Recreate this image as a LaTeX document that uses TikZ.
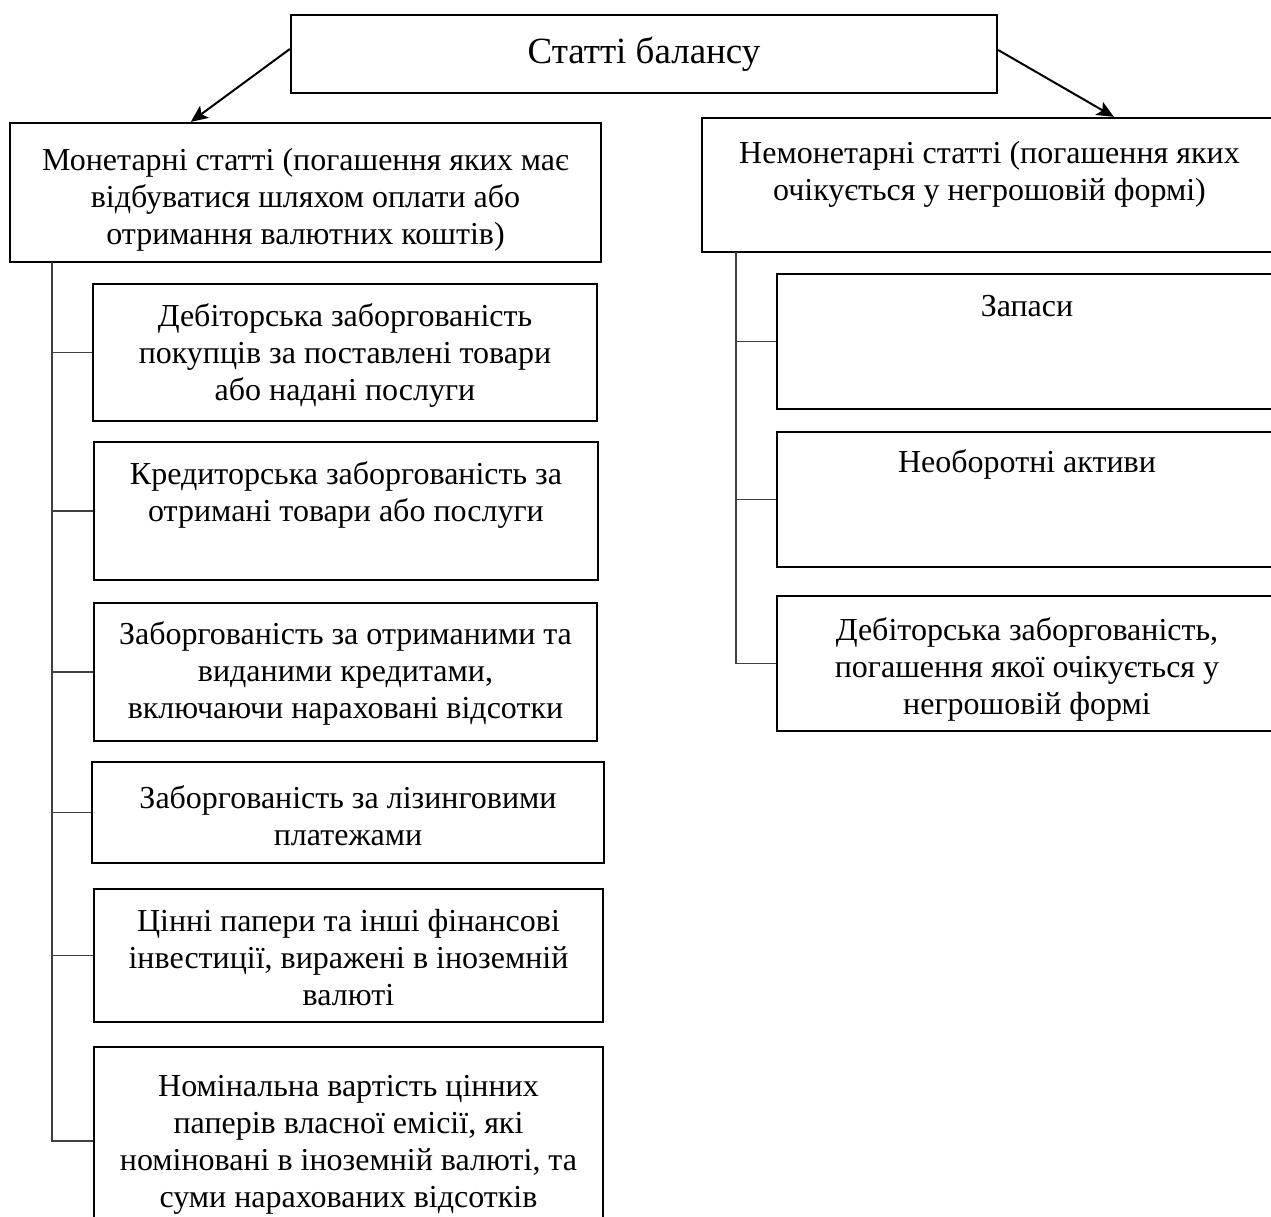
\documentclass[tikz,border=0pt]{standalone}
\usepackage{fontspec}
\setmainfont{Liberation Serif}
\usetikzlibrary{arrows.meta,calc}
\begin{document}
\begin{tikzpicture}[x=0.5pt,y=-0.5pt,
  box/.style={draw=black,line width=1.15pt,inner sep=0pt,fill=white},
  txt/.style={align=center,inner sep=0pt,anchor=base,font=\fontsize{16}{18.5}\selectfont},
  link/.style={draw=black!75,line width=0.55pt},
  arr/.style={draw=black,line width=1pt,-{Stealth[length=8.5pt,width=7.5pt,inset=2pt]}}]
\useasboundingbox (0,0) rectangle (1271,1217);
\clip (0,0) rectangle (1271,1217);
% top
\node[box,minimum width=353pt,minimum height=39pt] (top) at (644,54) {};
\node[anchor=base,inner sep=0pt,font=\fontsize{18.5}{22}\selectfont] (topt) at (644,63) {Статті балансу};
% main boxes
\node[box,minimum width=295.5pt,minimum height=69.5pt] (mon) at (305.5,192.5) {};
\node[txt] (mont) at ([yshift=-61.5pt]mon.north) {Монетарні статті (погашення яких має\\відбуватися шляхом оплати або\\отримання валютних коштів)};
\node[box,minimum width=287.5pt,minimum height=67pt] (nemon) at (989.5,185) {};
\node[txt] (nemont) at ([yshift=-41.75pt]nemon.north) {Немонетарні статті (погашення яких\\очікується у негрошовій формі)};
% arrows
\draw[arr] ([yshift=2.5pt]top.west) -- ([xshift=91pt]mon.north west);
\draw[arr] ([yshift=2pt]top.east) -- ([xshift=206.5pt]nemon.north west);
% left sub boxes
\node[box,minimum width=252pt,minimum height=68.5pt] (l1) at (345,352.5) {};
\node[txt] (l1t) at ([yshift=-59pt]l1.north) {Дебіторська заборгованість\\покупців за поставлені товари\\або надані послуги};
\node[box,minimum width=252pt,minimum height=69pt] (l2) at (346,511) {};
\node[txt] (l2t) at ([yshift=-40.25pt]l2.north) {Кредиторська заборгованість за\\отримані товари або послуги};
\node[box,minimum width=251.5pt,minimum height=69pt] (l3) at (345.5,672) {};
\node[txt] (l3t) at ([yshift=-58.5pt]l3.north) {Заборгованість за отриманими та\\виданими кредитами,\\включаючи нараховані відсотки};
\node[box,minimum width=256pt,minimum height=50.5pt] (l4) at (348,812.5) {};
\node[txt] (l4t) at ([yshift=-42.25pt]l4.north) {Заборгованість за лізинговими\\платежами};
\node[box,minimum width=254.5pt,minimum height=66.5pt] (l5) at (348.5,955.5) {};
\node[txt] (l5t) at ([yshift=-59pt]l5.north) {Цінні папери та інші фінансові\\інвестиції, виражені в іноземній\\валюті};
\node[box,minimum width=254.5pt,minimum height=94pt] (l6) at (348.5,1141) {};
\node[txt] (l6t) at ([yshift=-80.75pt]l6.north) {Номінальна вартість цінних\\паперів власної емісії, які\\номіновані в іноземній валюті, та\\суми нарахованих відсотків};
% right sub boxes
\node[box,minimum width=250pt,minimum height=67.5pt] (r1) at (1027,341.5) {};
\node[txt] (r1t) at ([yshift=-22pt]r1.north) {Запаси};
\node[box,minimum width=250pt,minimum height=67.5pt] (r2) at (1027,499.5) {};
\node[txt] (r2t) at ([yshift=-21pt]r2.north) {Необоротні активи};
\node[box,minimum width=250pt,minimum height=67.5pt] (r3) at (1027,663.5) {};
\node[txt] (r3t) at ([yshift=-60pt]r3.north) {Дебіторська заборгованість,\\погашення якої очікується у\\негрошовій формі};
% trunks
\coordinate (tl) at (52,262);
\coordinate (tr) at (736,252);
\draw[link] (tl) -- (tl |- l6.west) -- (l6.west);
\foreach \b in {l1,l2,l3,l4,l5} \draw[link] (tl |- \b.west) -- (\b.west);
\draw[link] (tr) -- (tr |- r3.west) -- (r3.west);
\foreach \b in {r1,r2} \draw[link] (tr |- \b.west) -- (\b.west);
\end{tikzpicture}
\end{document}
